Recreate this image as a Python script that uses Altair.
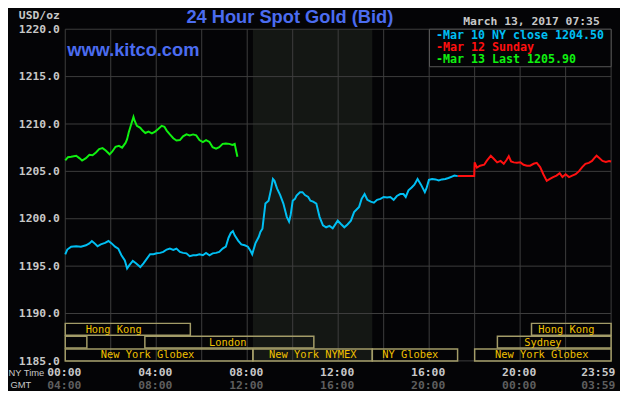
import altair as alt
import pandas as pd

# ---------------- data (hours in NY time, price USD/oz) ----------------
green_hours = [0.00, 0.12, 0.26, 0.48, 0.62, 0.74, 0.91, 1.06, 1.20, 1.35, 1.49, 1.64, 1.78, 1.95,
               2.07, 2.21, 2.36, 2.50, 2.65, 2.72, 2.79, 2.91, 3.00, 3.05, 3.15, 3.30, 3.40, 3.52,
               3.66, 3.81, 3.95, 4.10, 4.24, 4.36, 4.46, 4.60, 4.75, 4.89, 5.04, 5.18, 5.33, 5.47,
               5.62, 5.76, 5.90, 6.05, 6.19, 6.34, 6.48, 6.63, 6.77, 6.92, 7.06, 7.21, 7.35, 7.45,
               7.51, 7.57]
green_prices = [1206.15, 1206.5, 1206.55, 1206.65, 1206.4, 1206.15, 1206.4, 1206.75, 1206.7, 1207.0,
                1207.35, 1207.45, 1207.2, 1206.8, 1207.1, 1207.6, 1207.7, 1207.5, 1208.0, 1208.4,
                1209.1, 1210.05, 1210.75, 1210.35, 1209.8, 1209.6, 1209.3, 1209.05, 1209.2, 1209.0,
                1209.2, 1209.5, 1209.8, 1209.7, 1209.3, 1208.9, 1208.5, 1208.25, 1208.3, 1208.7,
                1208.9, 1208.8, 1208.9, 1208.8, 1208.3, 1208.1, 1208.3, 1208.1, 1207.55, 1207.4,
                1207.55, 1207.9, 1207.95, 1207.9, 1207.8, 1207.9, 1207.2, 1206.55]

cyan_hours = [0.00, 0.09, 0.26, 0.48, 0.69, 0.91, 1.06, 1.17, 1.27, 1.42, 1.56, 1.75, 1.90, 2.04,
              2.19, 2.33, 2.47, 2.62, 2.72, 2.82, 2.97, 3.11, 3.30, 3.44, 3.59, 3.73, 3.88, 4.02,
              4.17, 4.31, 4.46, 4.60, 4.75, 4.89, 5.04, 5.18, 5.33, 5.47, 5.62, 5.76, 5.90, 6.05,
              6.19, 6.34, 6.48, 6.63, 6.77, 6.92, 7.06, 7.18, 7.28, 7.37, 7.45, 7.60, 7.74, 7.89,
              8.03, 8.15, 8.22, 8.36, 8.51, 8.58, 8.67, 8.73, 8.80, 8.94, 9.04, 9.13, 9.20, 9.31,
              9.45, 9.59, 9.74, 9.84, 9.91, 10.00, 10.10, 10.17, 10.32, 10.43, 10.54, 10.68, 10.78,
              10.90, 11.04, 11.18, 11.33, 11.47, 11.62, 11.76, 11.98, 12.12, 12.27, 12.41, 12.56,
              12.70, 12.92, 13.03, 13.16, 13.28, 13.43, 13.57, 13.71, 13.86, 14.00, 14.15, 14.29,
              14.44, 14.58, 14.73, 14.87, 14.97, 15.09, 15.23, 15.35, 15.49, 15.64, 15.81, 15.88,
              15.99, 16.13, 16.28, 16.42, 16.56, 16.71, 16.85, 17.00, 17.11, 17.26]
cyan_prices = [1196.25, 1196.75, 1197.05, 1197.1, 1197.05, 1197.2, 1197.4, 1197.65, 1197.45, 1197.1,
               1197.3, 1197.45, 1197.65, 1197.4, 1197.05, 1196.85, 1196.15, 1195.6, 1194.75, 1195.1,
               1195.55, 1195.3, 1194.9, 1195.3, 1195.8, 1196.25, 1196.25, 1196.35, 1196.4, 1196.5,
               1196.75, 1196.85, 1196.7, 1196.85, 1196.5, 1196.4, 1196.35, 1196.05, 1196.15, 1196.15,
               1196.25, 1196.15, 1196.4, 1196.15, 1196.35, 1196.4, 1196.5, 1196.85, 1197.05, 1198.0,
               1198.5, 1198.7, 1198.25, 1197.7, 1197.3, 1197.2, 1197.05, 1196.6, 1196.25, 1197.4,
               1198.1, 1198.6, 1198.95, 1200.2, 1201.6, 1201.9, 1203.0, 1204.2, 1204.0, 1203.2,
               1202.5, 1201.6, 1200.2, 1199.7, 1200.4, 1201.9, 1202.1, 1202.45, 1202.8, 1202.8,
               1202.5, 1202.3, 1201.9, 1201.8, 1201.6, 1200.2, 1199.3, 1199.1, 1199.25, 1199.0,
               1199.8, 1199.45, 1199.1, 1199.4, 1199.8, 1200.7, 1201.25, 1202.1, 1202.6, 1202.0,
               1201.8, 1201.7, 1202.0, 1202.1, 1202.3, 1202.25, 1202.3, 1202.0, 1202.4, 1202.6,
               1202.6, 1202.3, 1203.0, 1203.3, 1203.6, 1204.2, 1203.6, 1202.8, 1203.2, 1204.1,
               1204.2, 1204.15, 1204.05, 1204.15, 1204.2, 1204.3, 1204.45, 1204.55, 1204.5]

red_hours = [17.26, 17.98, 18.00, 18.10, 18.24, 18.42, 18.53, 18.71, 18.85, 18.99, 19.14, 19.28,
             19.40, 19.50, 19.60, 19.72, 19.86, 20.01, 20.15, 20.30, 20.44, 20.59, 20.73, 20.88,
             21.02, 21.17, 21.31, 21.45, 21.60, 21.74, 21.86, 22.00, 22.15, 22.29, 22.44, 22.58,
             22.73, 22.87, 23.02, 23.16, 23.26, 23.36, 23.48, 23.62, 23.77, 23.91, 24.00]
red_prices = [1204.5, 1204.5, 1205.95, 1205.4, 1205.6, 1205.7, 1206.1, 1206.65, 1206.3, 1205.95,
              1206.1, 1205.8, 1206.2, 1206.6, 1206.05, 1205.95, 1205.9, 1205.95, 1205.7, 1205.6,
              1205.6, 1205.8, 1205.9, 1205.45, 1204.7, 1204.0, 1204.2, 1204.4, 1204.55, 1204.8,
              1204.4, 1204.7, 1204.4, 1204.55, 1204.7, 1205.0, 1205.45, 1205.8, 1205.9, 1206.1,
              1206.4, 1206.65, 1206.4, 1206.1, 1206.0, 1206.1, 1206.05]

series_names = ["Mar 10 NY close", "Mar 12 Sunday", "Mar 13 Last"]
series_colors = ["#00bff3", "#ff1010", "#10f010"]
legend_labels = ["-Mar 10 NY close 1204.50", "-Mar 12 Sunday", "-Mar 13 Last 1205.90"]

y_ticks = [1185, 1190, 1195, 1200, 1205, 1210, 1215, 1220]
y_unit = "USD/oz"
x_grid = [0, 2, 4, 6, 8, 10, 12, 14, 16, 18, 20, 22, 24]
x_label_hours = [0, 4, 8, 12, 16, 20]
ny_labels = ["00:00", "04:00", "08:00", "12:00", "16:00", "20:00"]
gmt_labels = ["04:00", "08:00", "12:00", "16:00", "20:00", "00:00"]
last_ny_label = "23:59"
last_gmt_label = "03:59"

nymex_start, nymex_end = 8.25, 13.5

row1_names = ["Hong Kong", "Hong Kong"]
row1_start = [0.0, 20.5]
row1_end = [5.5, 24.0]
row1_label_at = [2.13, 22.03]

row2_names = ["", "London", "Sydney"]
row2_start = [0.0, 3.5, 19.0]
row2_end = [0.95, 10.93, 24.0]
row2_label_at = [0.5, 7.14, 21.0]

row3_names = ["New York Globex", "New York NYMEX", "NY Globex", "New York Globex"]
row3_start = [0.0, 8.25, 13.5, 18.0]
row3_end = [8.25, 13.5, 17.25, 24.0]
row3_label_at = [3.62, 10.88, 15.17, 20.95]

title_text = "24 Hour Spot Gold (Bid)"
site_text = "www.kitco.com"
date_text = "March 13, 2017 07:35"

# ---------------- layout / style ----------------
W, H = 553, 336
BG = "#040406"
GRID = "#3e3e3e"
MONO = "DejaVu Sans Mono"
LABEL_GRAY = "#c8c8c8"
GMT_GRAY = "#5e5e5e"
BOX_STROKE = "#a39c68"
BOX_TEXT = "#f0c000"
BLUE = "#4b6cf0"

xs = alt.Scale(domain=[0, 24], nice=False, zero=False)
ys = alt.Scale(domain=[1185, 1220], nice=False, zero=False)

lines_df = pd.concat([
    pd.DataFrame({"hour": cyan_hours, "price": cyan_prices, "series": series_names[0]}),
    pd.DataFrame({"hour": red_hours, "price": red_prices, "series": series_names[1]}),
    pd.DataFrame({"hour": green_hours, "price": green_prices, "series": series_names[2]}),
], ignore_index=True)

shade = alt.Chart(pd.DataFrame({"s": [nymex_start], "e": [nymex_end]})).mark_rect(
    color="#141714"
).encode(
    x=alt.X("s:Q", scale=xs, axis=None), x2="e:Q",
    y=alt.value(0), y2=alt.value(H),
)

vgrid = alt.Chart(pd.DataFrame({"h": x_grid})).mark_rule(color=GRID, strokeWidth=1).encode(
    x=alt.X("h:Q", scale=xs, axis=None), y=alt.value(0), y2=alt.value(H)
)

ydf = pd.DataFrame({"v": y_ticks})
hgrid = alt.Chart(ydf).mark_rule(color=GRID, strokeWidth=1).encode(
    y=alt.Y("v:Q", scale=ys, axis=None), x=alt.value(0), x2=alt.value(W),
)
ylabels = alt.Chart(ydf).mark_text(
    font=MONO, fontSize=11.5, fontWeight="bold", color=LABEL_GRAY,
    align="right", baseline="alphabetic", dy=3.7
).encode(
    y=alt.Y("v:Q", scale=ys, axis=None), x=alt.value(-5.5), text=alt.Text("v:Q", format=".1f")
)


def box_layers(names, starts, ends, label_at, top, bottom, base):
    df = pd.DataFrame({"name": names, "start": starts, "end": ends, "lab": label_at})
    rect = alt.Chart(df).mark_rect(fillOpacity=0, stroke=BOX_STROKE, strokeWidth=1.5).encode(
        x=alt.X("start:Q", scale=xs, axis=None), x2="end:Q",
        y=alt.value(top), y2=alt.value(bottom),
    )
    txt = alt.Chart(df).mark_text(
        font=MONO, fontSize=10.5, color=BOX_TEXT, baseline="alphabetic", align="center"
    ).encode(
        x=alt.X("lab:Q", scale=xs, axis=None), y=alt.value(base), text="name:N"
    )
    return [rect, txt]


boxes = (box_layers(row1_names, row1_start, row1_end, row1_label_at, 298, 310, 308)
         + box_layers(row2_names, row2_start, row2_end, row2_label_at, 311, 323, 320.5)
         + box_layers(row3_names, row3_start, row3_end, row3_label_at, 324, 336, 333))

lines = alt.Chart(lines_df).mark_line(strokeWidth=2).encode(
    x=alt.X("hour:Q", scale=xs, axis=None),
    y=alt.Y("price:Q", scale=ys, axis=None),
    color=alt.Color("series:N", scale=alt.Scale(domain=series_names, range=series_colors), legend=None),
    detail="series:N",
)

one = pd.DataFrame({"k": [0]})

legend_box = alt.Chart(one).mark_rect(fill=BG, stroke="#585858", strokeWidth=1).encode(
    x=alt.value(369), x2=alt.value(W), y=alt.value(0), y2=alt.value(38)
)

legend_texts = []
for i, (lab, col) in enumerate(zip(legend_labels, series_colors)):
    legend_texts.append(
        alt.Chart(one).mark_text(font=MONO, fontSize=11.8, fontWeight="bold", color=col,
                                 align="left", baseline="alphabetic").encode(
            x=alt.value(375.5), y=alt.value(9.8 + i * 12), text=alt.value(lab))
    )


def free_text(text, x, y, **kw):
    return alt.Chart(one).mark_text(baseline="alphabetic", **kw).encode(
        x=alt.value(x), y=alt.value(y), text=alt.value(text))


title = free_text(title_text, 227.5, -6.2, font="Liberation Sans", fontSize=18.5, fontWeight="bold",
                  color=BLUE, align="center")
site = free_text(site_text, 2, 27.3, font="Liberation Sans", fontSize=18.5, fontWeight="bold",
                 color=BLUE, align="left")
date = free_text(date_text, 541.5, -4.3, font=MONO, fontSize=11.5, fontWeight="bold",
                 color=LABEL_GRAY, align="right")
unit = free_text(y_unit, -5.5, -10.3, font=MONO, fontSize=11.5, fontWeight="bold",
                 color=LABEL_GRAY, align="right")
nytime = free_text("NY Time", -57.5, H + 15.5, font="Liberation Sans", fontSize=9.5,
                   color=LABEL_GRAY, align="left")
gmt = free_text("GMT", -55.5, H + 27.5, font="Liberation Sans", fontSize=9.5,
                color=LABEL_GRAY, align="left")

xlab_df = pd.DataFrame({"h": x_label_hours, "ny": ny_labels, "gmt": gmt_labels})
ny_text = alt.Chart(xlab_df).mark_text(font=MONO, fontSize=11.5, fontWeight="bold", color=LABEL_GRAY,
                                        baseline="alphabetic", align="center", dx=-1).encode(
    x=alt.X("h:Q", scale=xs, axis=None), y=alt.value(H + 15.5), text="ny:N")
gmt_text = alt.Chart(xlab_df).mark_text(font=MONO, fontSize=11.5, fontWeight="bold", color=GMT_GRAY,
                                         baseline="alphabetic", align="center", dx=-1).encode(
    x=alt.X("h:Q", scale=xs, axis=None), y=alt.value(H + 28), text="gmt:N")
last_df = pd.DataFrame({"h": [24], "ny": [last_ny_label], "gmt": [last_gmt_label]})
ny_last = alt.Chart(last_df).mark_text(font=MONO, fontSize=11.5, fontWeight="bold", color=LABEL_GRAY,
                                        baseline="alphabetic", align="center", dx=-13).encode(
    x=alt.X("h:Q", scale=xs, axis=None), y=alt.value(H + 15.5), text="ny:N")
gmt_last = alt.Chart(last_df).mark_text(font=MONO, fontSize=11.5, fontWeight="bold", color=GMT_GRAY,
                                         baseline="alphabetic", align="center", dx=-13).encode(
    x=alt.X("h:Q", scale=xs, axis=None), y=alt.value(H + 28), text="gmt:N")

chart = alt.layer(
    shade, vgrid, hgrid, ylabels, *boxes, lines, legend_box, *legend_texts,
    title, site, date, unit, nytime, gmt, ny_text, gmt_text, ny_last, gmt_last
).properties(
    width=W, height=H,
    autosize=alt.AutoSizeParams(type="none"),
    padding={"left": 58, "top": 19, "right": 9, "bottom": 28},
    background=BG,
).configure_view(strokeWidth=0)

chart.save("out.html", embed_options={"renderer": "svg", "actions": False})
